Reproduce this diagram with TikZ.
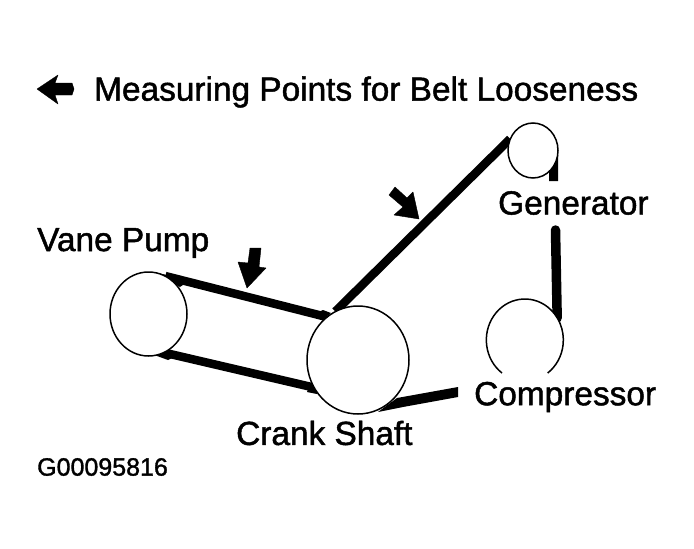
\documentclass[tikz,border=0pt]{standalone}
\usepackage{fontspec}
\setmainfont[FakeBold=1.4]{Liberation Sans}
\usetikzlibrary{shapes.geometric}
\begin{document}
\begin{tikzpicture}[x=1pt,y=-1pt,
  pulley/.style={ellipse,draw=black,line width=1.5pt,fill=white,inner sep=0pt},
  belt/.style={line width=8.5pt,black},
  lbl/.style={inner sep=0pt,anchor=west,font=\fontsize{33.4}{36}\selectfont,text=black},
  arr/.style={fill=black,draw=black,line width=0.4pt,line join=round},
  wedge/.style={fill=black}]
\useasboundingbox (0,0) rectangle (694,549);
\fill[white] (0,0) rectangle (694,549);
\path node[ellipse,minimum width=77pt,minimum height=84pt,inner sep=0pt] (vaneA) at (148.5,314) {}
      node[ellipse,minimum width=102pt,minimum height=108pt,inner sep=0pt] (crankA) at (358,360) {}
      node[ellipse,minimum width=50pt,minimum height=55pt,inner sep=0pt] (genA) at (533,150.5) {}
      node[ellipse,minimum width=77pt,minimum height=82pt,inner sep=0pt] (compA) at (524.5,340) {};
\coordinate (g2) at (553.5,181);
\coordinate (c1) at (555.5,230);
\coordinate (cr) at (458,392);
% belts
\draw[belt] (vaneA.66) -- (crankA.126);
\draw[belt] (vaneA.-68) -- (crankA.212);
\draw[belt] (crankA.115) -- (genA.153);
\draw[line width=9.5pt,line cap=round] (c1) -- (compA.34);
\fill[wedge] (153,272) -- (190,280) -- (180,287) -- cycle;
\fill[wedge] (323,310) -- (331,313) -- (325,318) -- (310,316) -- cycle;
\fill[wedge] (153,354) -- (170,351) -- (180,354) -- (168,360) -- (157,356) -- cycle;
\fill[wedge] (310,384) -- (319,391) -- (317,394) -- (307,392) -- cycle;
\fill[wedge] (558,155) -- (558,181) -- (g2) -- (549,181) -- (549,172) -- cycle;
\fill[wedge] (378,412) -- (397,398) -- (458,387) -- (cr) -- (458,397) -- (403,407) -- cycle;
% pulleys
\node[pulley,minimum width=77pt,minimum height=84pt] (vane) at (148.5,314) {};
\node[pulley,minimum width=102pt,minimum height=108pt] (crank) at (358,360) {};
\node[pulley,minimum width=50pt,minimum height=55pt] (gen) at (533,150.5) {};
\node[pulley,draw=none,minimum width=77pt,minimum height=82pt] (comp) at (524.5,340) {};
\draw[line width=1.5pt] (502,373) arc[start angle=233.6,end angle=-53.6,x radius=38.5pt,y radius=41pt];
% measuring arrows
\fill[arr] (37,89) -- (58,75) -- (55,83) -- (72,83) -- (74,89) -- (72,95) -- (55,95) -- (58,104) -- cycle;
\fill[arr] (419,219) -- (394,215) -- (403,207) -- (389,195) -- (395,187) -- (407,198) -- (413,192) -- cycle;
\fill[arr] (247,288) -- (238,262) -- (248,263) -- (250,248) -- (261,248) -- (259,267) -- (266,268) -- cycle;
% labels
\node[lbl] (t1) at (94,92) {Measuring Points for Belt Looseness};
\node[lbl] (t2) at (498,203) {Generator};
\node[lbl] (t3) at (37,243) {Vane Pump};
\node[lbl] (t4) at (474,397) {Compressor};
\node[lbl] (t5) at (236,433) {Crank Shaft};
\node[lbl,font=\fontsize{25}{28}\selectfont] (t6) at (37,467) {G00095816};
\end{tikzpicture}
\end{document}
